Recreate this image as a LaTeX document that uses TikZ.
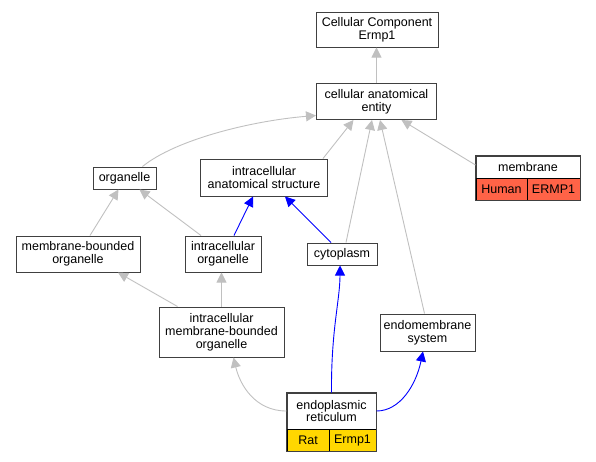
\documentclass[tikz,border=0pt]{standalone}
\usepackage{fontspec}
\setmainfont{Liberation Sans}
\usepackage{xcolor}
\usetikzlibrary{arrows.meta,calc}
\definecolor{edgegray}{RGB}{192,192,192}
\definecolor{tomatored}{RGB}{255,99,71}
\definecolor{goldfill}{RGB}{255,215,0}
\tikzset{
	term/.style={draw=black!75, line width=1pt, fill=white, rectangle, inner sep=0pt,
			align=center, font=\fontsize{12.5}{12.8}\selectfont},
	cell/.style={term, draw=black, line width=0.8pt},
	isa/.style={draw=edgegray, line width=0.9pt, -{Triangle[length=10pt,width=10pt]}},
	partof/.style={draw=blue, line width=0.9pt, -{Triangle[length=10pt,width=10pt]}}
}

\begin{document}
\begin{tikzpicture}[x=1pt,y=1pt]
		\useasboundingbox (0,0) rectangle (596,-461);
		% Terms
		\node[term, minimum width=122pt, minimum height=35pt] (cc) at (377,-29.5) {Cellular Component\\Ermp1};
		\node[term, minimum width=120pt, minimum height=36pt] (cae) at (376.5,-101.5) {cellular anatomical\\entity};
		\node[term, minimum width=63pt, minimum height=22pt] (org) at (124.5,-178) {organelle};
		\node[term, minimum width=127pt, minimum height=37pt] (ias) at (264,-177.5) {intracellular\\anatomical structure};
		\node[term, minimum width=124pt, minimum height=36pt] (mbo) at (78,-254) {membrane-bounded\\organelle};
		\node[term, minimum width=76pt, minimum height=36pt] (io) at (223,-254) {intracellular\\organelle};
		\node[term, minimum width=70pt, minimum height=22pt] (cyt) at (342,-254) {cytoplasm};
		\node[term, minimum width=125pt, minimum height=50pt] (imbo) at (221.5,-332) {intracellular\\membrane-bounded\\organelle};
		\node[term, minimum width=95pt, minimum height=37pt] (ems) at (427.5,-332.5) {endomembrane\\system};
		% Annotated terms
		\node[term, minimum width=104pt, minimum height=22pt] (mem) at (528,-167) {membrane};
		\node[cell, fill=tomatored, minimum width=51pt, minimum height=22pt] (memhuman) at (501.5,-189) {Human};
		\node[cell, fill=tomatored, minimum width=53pt, minimum height=22pt] (memgene) at (553.5,-189) {ERMP1};
		\draw[black!75, line width=1pt] (mem.north west) rectangle (memgene.south east);
		\node[term, minimum width=89pt, minimum height=36pt] (er) at (331.5,-411) {endoplasmic\\reticulum};
		\node[cell, fill=goldfill, minimum width=42pt, minimum height=22pt] (errat) at (308,-440) {Rat};
		\node[cell, fill=goldfill, minimum width=47pt, minimum height=22pt] (ergene) at (352.5,-440) {Ermp1};
		\draw[black!75, line width=1pt] (er.north west) rectangle (ergene.south east);
		% is_a
		\draw[isa] (cae.north) -- (cae.north |- cc.south);
		\draw[isa] ([xshift=18pt]org.north) .. controls (175,-140) and (250,-121) .. ([yshift=-14pt]cae.west);
		\draw[isa] ([xshift=-5pt]ias.north east) -- ([xshift=-23pt]cae.south);
		\draw[isa] ([xshift=4pt]cyt.north) -- ([xshift=-4.5pt]cae.south);
		\draw[isa] ([xshift=-3pt]ems.north) -- ([xshift=3.5pt]cae.south);
		\draw[isa] ([yshift=2pt]mem.west) -- ([xshift=25pt]cae.south);
		\draw[isa] ([xshift=12pt]mbo.north) -- ([xshift=-6pt]org.south);
		\draw[isa] ([xshift=-22pt]io.north) -- ([xshift=15pt]org.south);
		\draw[isa] ([xshift=-44pt]imbo.north) -- ([xshift=40pt]mbo.south);
		\draw[isa] (imbo.north) -- (imbo.north |- io.south);
		\draw[isa] (er.west) .. controls (255,-411) and (240,-385) .. ([xshift=12pt]imbo.south);
		% part_of
		\draw[partof] ([xshift=11pt]io.north) -- ([xshift=-11pt]ias.south);
		\draw[partof] ([xshift=-11pt]cyt.north) -- ([xshift=21pt]ias.south);
		\draw[partof] (er.north) .. controls (331,-330) and (340,-300) .. ([xshift=-2pt]cyt.south);
		\draw[partof] (er.east) .. controls (400,-411) and (416,-385) .. ([xshift=-4.5pt]ems.south);
	\end{tikzpicture}
\end{document}
